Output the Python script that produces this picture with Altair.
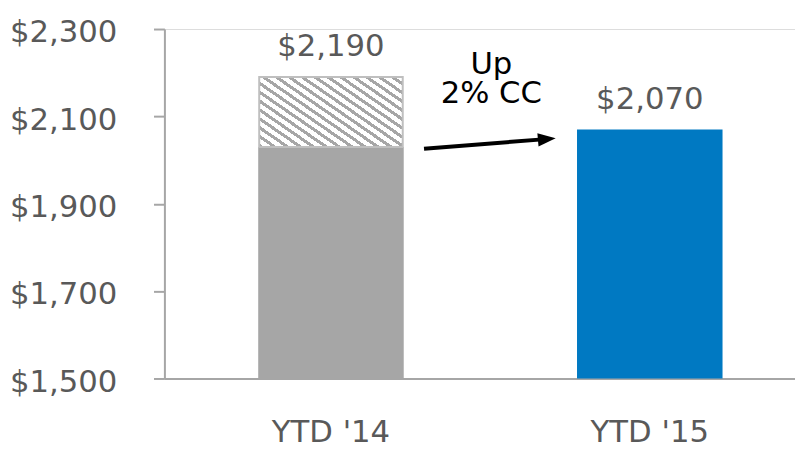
import altair as alt
import pandas as pd

# ---- data ----
categories = ["YTD '14", "YTD '15"]
base_values = [2030, 2070]          # solid part of each bar
bar_colors = ["#a6a6a6", "#0079c2"]
hatch_category = "YTD '14"
hatch_from = 2030
hatch_to = 2190
label_values = [2190, 2070]
label_texts = ["$2,190", "$2,070"]
axis_ticks = [1500, 1700, 1900, 2100, 2300]
note_lines = ["Up", "2% CC"]
note_values = [2197, 2131]
arrow_y = [2026, 2048]

FONT = "DejaVu Sans"
FS = 31
TXT = "#595959"
AX = "#a6a6a6"

bars = pd.DataFrame({"cat": categories, "y0": [1500, 1500], "y1": base_values, "col": bar_colors})
hatch = pd.DataFrame({"cat": [hatch_category], "y0": [hatch_from], "y1": [hatch_to]})
labels = pd.DataFrame({"cat": categories, "v": label_values, "t": label_texts})
arrow = pd.DataFrame({"a": [categories[0]], "b": [categories[1]], "y": [arrow_y[0]], "y2": [arrow_y[1]]})
note = pd.DataFrame({"cat": [categories[0]] * 2, "v": note_values, "t": note_lines})
head = pd.DataFrame({"cat": [categories[1]], "v": [arrow_y[1]]})

xscale = alt.Scale(domain=categories, paddingInner=0.5, paddingOuter=0.239, align=0.57)
yscale = alt.Scale(domain=[1500, 2300], nice=False, zero=False)

x_enc = alt.X("cat:N", scale=xscale, sort=categories, title=None,
              axis=alt.Axis(labelAngle=0, labelFont=FONT, labelFontSize=FS, labelColor=TXT,
                            ticks=False, domainColor=AX, domainWidth=2, labelPadding=40))
y_enc = alt.Y("y0:Q", scale=yscale, title=None,
              axis=alt.Axis(values=axis_ticks, format="$,.0f", labelFont=FONT, labelFontSize=FS,
                            labelColor=TXT, tickColor=AX, tickSize=11, tickWidth=2,
                            domainColor=AX, domainWidth=2, labelPadding=37, grid=False,
                            labelOffset=4))

base_layer = alt.Chart(bars).mark_bar(size=147).encode(
    x=x_enc, y=y_enc, y2="y1:Q", color=alt.Color("col:N", scale=None))

# diagonal hatch via a striped linear gradient
N = 19
gray_frac = 0.42
stops = []
for i in range(N):
    a = i / N
    b = (i + gray_frac) / N
    c = (i + 1) / N
    stops += [alt.GradientStop(offset=a, color="#a6a6a6"),
              alt.GradientStop(offset=b, color="#a6a6a6"),
              alt.GradientStop(offset=b, color="#ffffff"),
              alt.GradientStop(offset=c, color="#ffffff")]
grad = alt.LinearGradient(gradient="linear", stops=stops, x1=0, y1=1, x2=1.1374, y2=0.194)

hatch_layer = alt.Chart(hatch).mark_bar(size=145, color=grad, stroke="#bfbfbf", strokeWidth=2).encode(
    x=alt.X("cat:N", scale=xscale, sort=categories),
    y=alt.Y("y0:Q", scale=yscale), y2="y1:Q")

label_layer = alt.Chart(labels).mark_text(font=FONT, fontSize=FS, color=TXT, baseline="bottom", dy=-14).encode(
    x=alt.X("cat:N", scale=xscale, sort=categories),
    y=alt.Y("v:Q", scale=yscale), text="t:N")

arrow_layer = alt.Chart(arrow).mark_rule(color="black", strokeWidth=4, xOffset=94, x2Offset=-105).encode(
    x=alt.X("a:N", scale=xscale, sort=categories), x2="b:N",
    y=alt.Y("y:Q", scale=yscale), y2="y2:Q")

head_layer = alt.Chart(head).mark_point(shape="M -1 -0.75 L 1 0 L -1 0.75 Z", size=324, filled=True,
                                        color="black", opacity=1, angle=355, xOffset=-104).encode(
    x=alt.X("cat:N", scale=xscale, sort=categories),
    y=alt.Y("v:Q", scale=yscale))

note_layer = alt.Chart(note).mark_text(font=FONT, fontSize=FS, color="black",
                                       baseline="alphabetic", xOffset=162).encode(
    x=alt.X("cat:N", scale=xscale, sort=categories),
    y=alt.Y("v:Q", scale=yscale), text="t:N")

chart = alt.layer(base_layer, hatch_layer, label_layer, arrow_layer, head_layer, note_layer).properties(
    width=637, height=353,
    autosize=alt.AutoSizeParams(type="none"),
    padding={"left": 158, "top": 19, "right": 0, "bottom": 70},
).configure_view(stroke=None).configure(background="white")

chart.save("out.html", embed_options={"renderer": "svg", "actions": False})
